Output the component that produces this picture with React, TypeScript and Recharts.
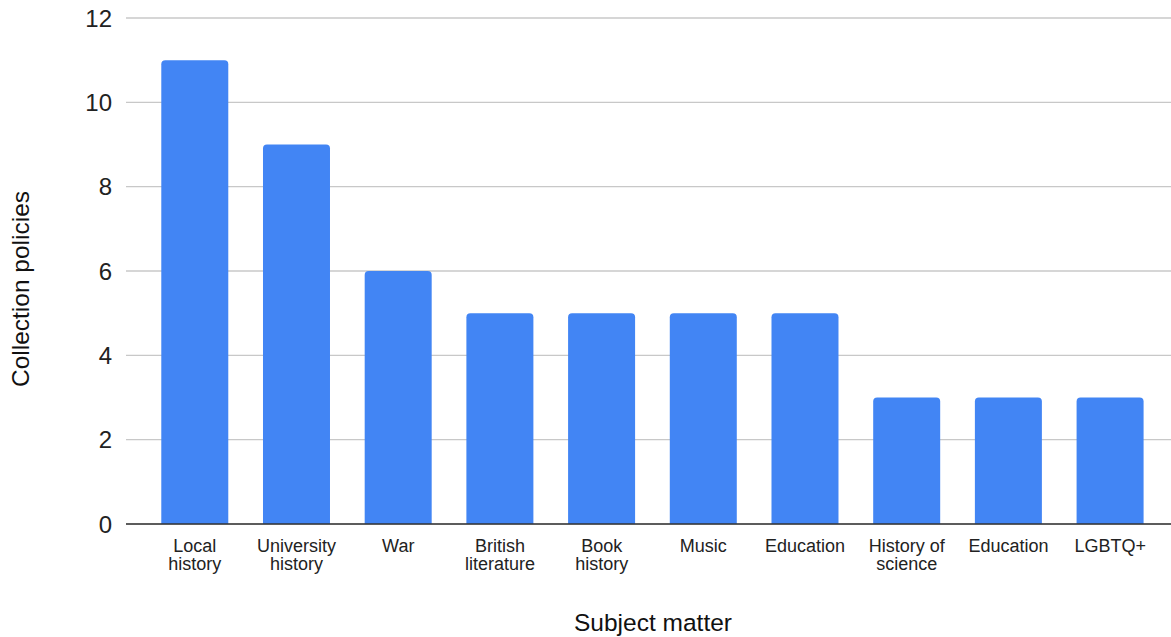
import { BarChart, Bar, XAxis, YAxis, CartesianGrid, Label } from "recharts";

const CATEGORIES = [
  "Local\nhistory",
  "University\nhistory",
  "War",
  "British\nliterature",
  "Book\nhistory",
  "Music",
  "Education",
  "History of\nscience",
  "Education",
  "LGBTQ+",
];
const POLICIES = [11, 9, 6, 5, 5, 5, 5, 3, 3, 3];
const Y_TICKS = [0, 2, 4, 6, 8, 10, 12];

const FONT = "'Liberation Sans', Arial, Helvetica, sans-serif";
const BLUE = "#4285F4";

const data = CATEGORIES.map((c, i) => ({ idx: i, name: c, value: POLICIES[i] }));

function CategoryTick({ x, y, payload }: any) {
  const lines = CATEGORIES[payload.value].split("\n");
  return (
    <text x={x} y={y} textAnchor="middle" fill="#222" fontSize={18} fontFamily={FONT}>
      {lines.map((l, i) => (
        <tspan key={i} x={x} dy={i === 0 ? 20 : 18}>
          {l}
        </tspan>
      ))}
    </text>
  );
}

export default function App() {
  return (
    <div style={{ position: "absolute", left: 0, top: 0, background: "#fff" }}>
      <BarChart
        width={1171}
        height={637}
        data={data}
        margin={{ top: 18, right: 0, bottom: 0, left: 0 }}
        barCategoryGap="17%"
      >
        <CartesianGrid vertical={false} stroke="#c8c8c8" strokeWidth={1.3} />
        <XAxis
          dataKey="idx"
          type="category"
          tick={<CategoryTick />}
          tickLine={false}
          axisLine={{ stroke: "#333", strokeWidth: 1.5 }}
          padding={{ left: 18, right: 10 }}
          interval={0}
          height={113}
        >
          <Label
            content={() => (
              <text x={653} y={631} textAnchor="middle" fontSize={24.5} fill="#111" fontFamily={FONT}>
                Subject matter
              </text>
            )}
          />
        </XAxis>
        <YAxis
          domain={[0, 12]}
          ticks={Y_TICKS}
          width={126}
          tickLine={false}
          axisLine={false}
          tickSize={0}
          tickMargin={14}
          tick={{ fill: "#222", fontSize: 24, fontFamily: FONT }}
        >
          <Label
            content={() => (
              <text
                x={29}
                y={289}
                transform="rotate(-90 29 289)"
                textAnchor="middle"
                fontSize={24.5}
                fill="#111"
                fontFamily={FONT}
              >
                Collection policies
              </text>
            )}
          />
        </YAxis>
        <Bar dataKey="value" fill={BLUE} radius={[4, 4, 0, 0]} isAnimationActive={false} />
      </BarChart>
    </div>
  );
}
